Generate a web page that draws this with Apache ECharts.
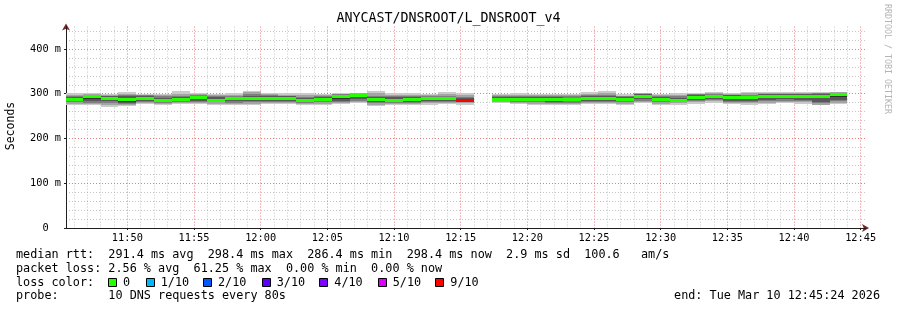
<!DOCTYPE html>
<html><head><meta charset="utf-8">
<script src="https://cdn.jsdelivr.net/npm/echarts@6/dist/echarts.min.js"></script>
<style>html,body{margin:0;padding:0;background:#fff}#c{width:897px;height:310px}</style>
</head><body><div id="c"></div>
<script>
// ---- data ----
const title = 'ANYCAST/DNSROOT/L_DNSROOT_v4';
const axisStart = '11:45:24';
const axisEnd = '12:45:24';
const xTickLabels = ['11:50','11:55','12:00','12:05','12:10','12:15','12:20','12:25','12:30','12:35','12:40','12:45'];
const yTickValues = [0, 100, 200, 300, 400];
const stepLengthSec = 80;
const stepStarts = ['11:45:20','11:46:40','11:48:00','11:49:20','11:50:40','11:52:00','11:53:20','11:54:40','11:56:00','11:57:20',
  '11:58:40','12:00:00','12:01:20','12:02:40','12:04:00','12:05:20','12:06:40','12:08:00','12:09:20','12:10:40',
  '12:12:00','12:13:20','12:14:40','12:16:00','12:17:20','12:18:40','12:20:00','12:21:20','12:22:40','12:24:00',
  '12:25:20','12:26:40','12:28:00','12:29:20','12:30:40','12:32:00','12:33:20','12:34:40','12:36:00','12:37:20',
  '12:38:40','12:40:00','12:41:20','12:42:40'];
// sorted ping RTTs (ms) per step, rank 1 (fastest) .. rank 10 (slowest)
const ping1 = [276,277,272,275,279,278,279,279,277,278, 276,279,280,278,277,280,282,275,277,277, 278,279,278,null, 281,280,278,277,278,279,280,278,282,277, 278,280,282,279,278,280,281,280,276,279];
const ping2 = [280,279,277,277,281,280,281,281,280,280, 279,281,282,280,280,282,284,278,279,279, 281,282,282,null, 283,282,280,279,280,281,282,280,284,280, 281,283,285,281,281,282,284,283,278,282];
const ping3 = [283,282,281,279,283,282,283,284,283,282, 283,283,284,282,283,284,287,281,281,281, 284,284,284,null, 285,284,283,281,282,283,284,283,287,283, 283,285,288,283,283,285,287,286,281,285];
const ping4 = [285,286,285,281,286,284,285,287,285,286, 286,286,287,284,286,287,290,284,283,283, 287,287,285,null, 287,286,285,284,285,286,287,285,290,286, 285,288,291,286,286,288,290,289,284,288];
const ping5 = [287,290,289,284,289,286,288,291,286,289, 290,289,290,285,287,290,295,287,285,285, 289,289,286,null, 288,287,287,287,287,289,289,287,293,287, 286,291,294,291,290,293,293,293,293,295];
const ping6 = [290,295,292,290,292,288,290,294,289,291, 292,293,292,287,289,296,298,289,289,290, 291,291,287,null, 290,288,290,291,289,293,291,290,298,288, 287,295,296,295,294,298,297,297,298,300];
const ping7 = [292,296,294,294,295,291,292,296,293,293, 296,295,294,290,292,298,299,292,292,293, 293,293,290,null, 293,292,293,293,291,295,294,292,299,293, 290,297,298,297,296,299,299,299,300,301];
const ping8 = [295,297,296,297,297,294,295,297,295,295, 299,297,296,293,294,299,300,296,295,296, 295,296,293,null, 295,295,295,295,294,297,298,294,300,296, 294,299,299,298,298,300,300,300,301,302];
const ping9 = [298,299,298,300,298,297,299,299,298,298, 303,299,298,297,297,300,301,301,298,298, 297,299,297,null, 297,298,297,297,297,300,302,296,301,298, 297,300,301,300,301,301,302,301,302,303];
const ping10 = [302,302,300,304,300,300,305,301,300,302, 306,301,301,301,300,302,302,307,301,301, 300,303,302,null, 299,301,299,299,300,303,307,299,302,300, 301,302,303,302,304,303,304,303,303,304];
const medianRtt = [288.5,294,291,288.5,290,287,289,293,287,290, 291,291,291,286.4,288,295,297,288,287,288, 290,290,286.5,null, 289,287.5,289,289,288,291,290,289,296,287.5, 286.5,293,295,293,292,296,295,295,296,298.4];
const lossCount = [0,0,0,0,0,0,0,0,0,0, 0,0,0,0,0,0,0,0,0,0, 0,0,9,null, 0,0,0,0,0,0,0,0,0,0, 0,0,0,0,0,0,0,0,0,0];
const lossLegendLabels = ['0','1/10','2/10','3/10','4/10','5/10','9/10'];
const lossLegendCounts = [0,1,2,3,4,5,9];
const lossColors = ['#26ff00','#00b8ff','#0059ff','#5e00ff','#7e00ff','#dd00ff','#ff0000'];
const statsLine1 = 'median rtt:  291.4 ms avg  298.4 ms max  286.4 ms min  298.4 ms now  2.9 ms sd  100.6   am/s';
const statsLine2 = 'packet loss: 2.56 % avg  61.25 % max  0.00 % min  0.00 % now';
const statsLine3 = 'loss color:';
const statsLine4 = 'probe:       10 DNS requests every 80s';
const endLine = 'end: Tue Mar 10 12:45:24 2026';

// ---- styles ----
const FONT = 'DejaVu Sans Mono';
const smokeShades = ['#cacaca','#a4a4a4','#7e7e7e','#585858','#323232'];
const legendBoxX = [108, 145.7, 203, 261.7, 319.3, 377.7, 435.3];

const toSec = s => { const p = s.split(':').map(Number); return p[0]*3600 + p[1]*60 + (p[2] || 0); };
const fmtTime = v => { const h = Math.floor(v/3600), m = Math.round((v%3600)/60); return String(h).padStart(2,'0') + ':' + String(m).padStart(2,'0'); };
const xMin = toSec(axisStart), xMax = toSec(axisEnd);
const xMajor = xTickLabels.map(toSec);
const xMinor = [];
for (let t = Math.ceil(xMin/60)*60; t <= xMax; t += 60) if (xMajor.indexOf(t) < 0) xMinor.push(t);
const yMinor = [];
for (let v = 20; v < 450; v += 20) if (yTickValues.indexOf(v) < 0) yMinor.push(v);

const pings = [ping1,ping2,ping3,ping4,ping5,ping6,ping7,ping8,ping9,ping10];
const smokeData = [], medianData = [];
stepStarts.forEach((s, i) => {
  if (medianRtt[i] == null) return;
  const t = toSec(s);
  smokeData.push([t, t + stepLengthSec].concat(pings.map(p => p[i])));
  const li = lossLegendCounts.indexOf(lossCount[i]);
  medianData.push([t, t + stepLengthSec, medianRtt[i], li]);
});

function clip(x0, y0, x1, y1, cs) {
  const a = Math.max(Math.min(x0, x1), cs.x), b = Math.min(Math.max(x0, x1), cs.x + cs.width);
  const c = Math.max(Math.min(y0, y1), cs.y), d = Math.min(Math.max(y0, y1), cs.y + cs.height);
  return { x: a, y: c, width: Math.max(0, b - a), height: Math.max(0, d - c) };
}

const chart = echarts.init(document.getElementById('c'), null, { renderer: 'canvas' });
const axisDark = '#1f1f1f', arrowRed = '#801f1f';
const minorGrid = { show: true, lineStyle: { color: 'rgba(150,150,150,0.55)', width: 1, type: [1, 2] } };
const majorGrid = { show: true, lineStyle: { color: 'rgba(230,80,80,0.75)', width: 1, type: [1, 2] } };

chart.setOption({
  animation: false,
  backgroundColor: '#ffffff',
  grid: { left: 66, right: 31, top: 26.6, bottom: 82, containLabel: false, outerBoundsMode: 'none' },
  xAxis: [
    { type: 'value', min: xMin, max: xMax, z: 0,
      axisLine: { show: true, symbol: ['none', 'arrow'], symbolSize: [6, 7], symbolOffset: [0, 3], lineStyle: { color: arrowRed, width: 1 } },
      axisTick: { show: true, length: 2, customValues: xMajor, lineStyle: { color: axisDark } },
      axisLabel: { show: true, customValues: xMajor, formatter: v => fmtTime(v), margin: 5,
        fontFamily: FONT, fontSize: 10.3, color: '#000' },
      splitLine: majorGrid },
    { type: 'value', min: xMin, max: xMax, z: 1,
      axisLine: { show: true, lineStyle: { color: axisDark, width: 1 } },
      axisTick: { show: false, customValues: xMinor },
      axisLabel: { show: false, customValues: xMinor },
      splitLine: minorGrid }
  ],
  yAxis: [
    { type: 'value', min: 0, max: 450, position: 'left', z: 0,
      axisLine: { show: true, symbol: ['none', 'arrow'], symbolSize: [6, 7], symbolOffset: [0, 3], lineStyle: { color: arrowRed, width: 1 } },
      axisTick: { show: true, length: 2, customValues: yTickValues, lineStyle: { color: axisDark } },
      axisLabel: { show: true, customValues: yTickValues, margin: 5, fontFamily: FONT, fontSize: 10.3, color: '#000',
        formatter: v => v === 0 ? '0  ' : v + ' m' },
      splitLine: majorGrid },
    { type: 'value', min: 0, max: 450, position: 'left', offset: 0, z: 1,
      axisLine: { show: true, lineStyle: { color: axisDark, width: 1 } },
      axisTick: { show: false, customValues: yMinor },
      axisLabel: { show: false, customValues: yMinor },
      splitLine: minorGrid }
  ],
  series: [
    { type: 'custom', name: 'smoke', xAxisIndex: 0, yAxisIndex: 0, z: 2,
      encode: { x: [0, 1], y: [2,3,4,5,6,7,8,9,10,11] },
      data: smokeData,
      renderItem: (params, api) => {
        const cs = params.coordSys;
        const x0 = Math.round(api.coord([api.value(0), 0])[0]);
        const x1 = Math.round(api.coord([api.value(1), 0])[0]);
        const children = [];
        for (let k = 0; k < 5; k++) {
          const lo = api.value(2 + k), hi = api.value(11 - k);
          const yLo = Math.round(api.coord([api.value(0), lo])[1]);
          const yHi = Math.round(api.coord([api.value(0), hi])[1]);
          children.push({ type: 'rect', shape: clip(x0, yHi, x1, yLo + 1, cs), style: { fill: smokeShades[k] } });
        }
        return { type: 'group', children };
      } },
    { type: 'custom', name: 'median', xAxisIndex: 0, yAxisIndex: 0, z: 3,
      encode: { x: [0, 1], y: 2 },
      data: medianData,
      renderItem: (params, api) => {
        const cs = params.coordSys;
        const x0 = Math.round(api.coord([api.value(0), 0])[0]);
        const x1 = Math.round(api.coord([api.value(1), 0])[0]);
        const ym = Math.round(api.coord([api.value(0), api.value(2)])[1]);
        return { type: 'rect', shape: clip(x0, ym - 1, x1, ym + 2, cs), style: { fill: lossColors[api.value(3)] } };
      } }
  ],
  graphic: [
    { type: 'text', x: 448.5, y: 19, style: { text: title, font: '13.3px "' + FONT + '"', fill: '#000', textAlign: 'center', textVerticalAlign: 'middle' } },
    { type: 'text', x: 11, y: 126, rotation: Math.PI / 2, style: { text: 'Seconds', font: '11.5px "' + FONT + '"', fill: '#000', textAlign: 'center', textVerticalAlign: 'middle' } },
    { type: 'text', x: 887, y: 59, rotation: -Math.PI / 2, style: { text: 'RRDTOOL / TOBI OETIKER', font: '8.3px "' + FONT + '"', fill: '#b4b4b4', textAlign: 'center', textVerticalAlign: 'middle' } },
    { type: 'text', x: 16, y: 255, style: { text: statsLine1, font: '11.8px "' + FONT + '"', fill: '#000', textAlign: 'left', textVerticalAlign: 'middle' } },
    { type: 'text', x: 16, y: 268.7, style: { text: statsLine2, font: '11.8px "' + FONT + '"', fill: '#000', textAlign: 'left', textVerticalAlign: 'middle' } },
    { type: 'text', x: 16, y: 282.5, style: { text: statsLine3, font: '11.8px "' + FONT + '"', fill: '#000', textAlign: 'left', textVerticalAlign: 'middle' } },
    { type: 'text', x: 16, y: 296, style: { text: statsLine4, font: '11.8px "' + FONT + '"', fill: '#000', textAlign: 'left', textVerticalAlign: 'middle' } },
    { type: 'text', x: 880, y: 296, style: { text: endLine, font: '11.8px "' + FONT + '"', fill: '#000', textAlign: 'right', textVerticalAlign: 'middle' } }
  ].concat(lossLegendLabels.flatMap((lab, i) => [
    { type: 'rect', shape: { x: Math.round(legendBoxX[i]) + 0.5, y: 278.5, width: 8, height: 8 }, style: { fill: lossColors[i], stroke: '#000', lineWidth: 1 } },
    { type: 'text', x: legendBoxX[i] + 15, y: 282.5, style: { text: lab, font: '11.8px "' + FONT + '"', fill: '#000', textAlign: 'left', textVerticalAlign: 'middle' } }
  ]))
});
</script></body></html>
